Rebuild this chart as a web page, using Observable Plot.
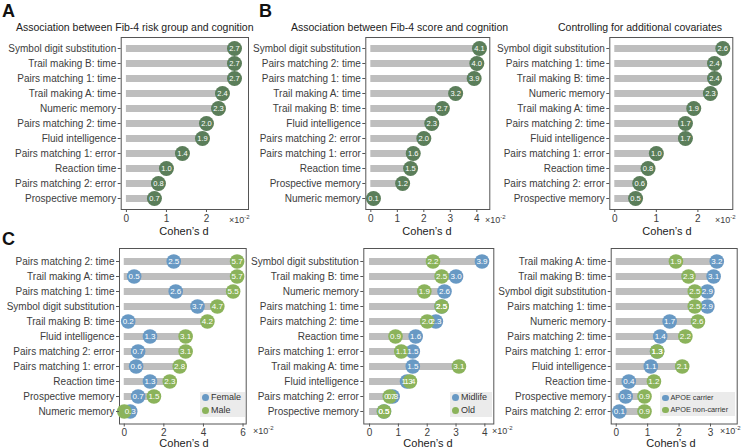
<!DOCTYPE html>
<html><head><meta charset="utf-8">
<script src="https://cdn.jsdelivr.net/npm/d3@7"></script>
<script src="https://cdn.jsdelivr.net/npm/@observablehq/plot@0.6"></script>
<style>
body{margin:0;background:#fff;font-family:"Liberation Sans",Arial,Helvetica,sans-serif;}
#wrap{position:relative;width:742px;height:448px;overflow:hidden;background:#fff;}
.abs{position:absolute;white-space:nowrap;line-height:1;}
.leg{position:absolute;background:#ebebeb;}
.leg div{display:flex;align-items:center;line-height:1;color:#333;}
.leg span.d{display:inline-block;border-radius:50%;margin-right:2px;}
svg{position:absolute;overflow:visible;}
</style></head><body><div id="wrap"></div>
<script>
// ---------- data ----------
const catsA = ["Symbol digit substitution","Trail making B: time","Pairs matching 1: time","Trail making A: time","Numeric memory","Pairs matching 2: time","Fluid intelligence","Pairs matching 1: error","Reaction time","Pairs matching 2: error","Prospective memory"];
const valsA = [2.7,2.7,2.7,2.4,2.3,2.0,1.9,1.4,1.0,0.8,0.7];

const catsB = ["Symbol digit substitution","Pairs matching 2: time","Pairs matching 1: time","Trail making A: time","Trail making B: time","Fluid intelligence","Pairs matching 2: error","Pairs matching 1: error","Reaction time","Prospective memory","Numeric memory"];
const valsB = [4.1,4.0,3.9,3.2,2.7,2.3,2.0,1.6,1.5,1.2,0.1];

const catsB2 = ["Symbol digit substitution","Pairs matching 1: time","Trail making B: time","Numeric memory","Trail making A: time","Pairs matching 2: time","Fluid intelligence","Pairs matching 1: error","Reaction time","Pairs matching 2: error","Prospective memory"];
const valsB2 = [2.6,2.4,2.4,2.3,1.9,1.7,1.7,1.0,0.8,0.6,0.5];

const catsC1 = ["Pairs matching 2: time","Trail making A: time","Pairs matching 1: time","Symbol digit substitution","Trail making B: time","Fluid intelligence","Pairs matching 2: error","Pairs matching 1: error","Reaction time","Prospective memory","Numeric memory"];
const femaleC1 = [2.5,0.5,2.6,3.7,0.2,1.3,0.7,0.6,1.3,0.7,0.3];
const maleC1 = [5.7,5.7,5.5,4.7,4.2,3.1,3.1,2.8,2.3,1.5,0.0];

const catsC2 = ["Symbol digit substitution","Trail making B: time","Numeric memory","Pairs matching 1: time","Pairs matching 2: time","Reaction time","Pairs matching 1: error","Trail making A: time","Fluid intelligence","Pairs matching 2: error","Prospective memory"];
const midlifeC2 = [3.9,3.0,2.6,2.5,2.3,1.6,1.5,1.5,1.3,0.8,0.5];
const oldC2 = [2.2,2.5,1.9,2.5,2.0,0.9,1.1,3.1,1.4,0.7,0.5];

const catsC3 = ["Trail making A: time","Trail making B: time","Symbol digit substitution","Pairs matching 1: time","Numeric memory","Pairs matching 2: time","Pairs matching 1: error","Fluid intelligence","Reaction time","Prospective memory","Pairs matching 2: error"];
const carrierC3 = [3.2,3.1,2.9,2.9,1.7,1.4,1.3,1.1,0.4,0.3,0.1];
const noncarrierC3 = [1.9,2.3,2.5,2.5,2.6,2.2,1.3,2.1,1.2,0.9,0.9];

// ---------- styles ----------
const DARK = "#5b7e5a", BLUE = "#6899c4", GREEN = "#8bb35b", BAR = "#bebebe";
const wrap = document.getElementById("wrap");

function panel(cfg) {
  const rows = cfg.cats.map((c, i) => ({cat: c, max: d3.max(cfg.series, s => s.vals[i])}));
  const marks = [
    Plot.frame({stroke: "#555", strokeWidth: 1}),
    Plot.ruleY(rows, {y: "cat", x1: 0, x2: "max", stroke: BAR, strokeWidth: 7})
  ];
  const series = cfg.series.map(s => s.vals.map((v, i) => ({cat: cfg.cats[i], v})));
  cfg.series.forEach((s, k) => marks.push(Plot.dot(series[k], {x: "v", y: "cat", r: cfg.r, fill: s.color})));
  // labels that would round to 0.0 are not printed (hidden in the reference)
  cfg.series.forEach((s, k) => marks.push(Plot.text(series[k].filter(d => d.v >= 0.05), {x: "v", y: "cat", text: d => d.v.toFixed(1), fill: "white", fontSize: cfg.fs})));
  marks.push(Plot.axisX({ticks: cfg.ticks, tickFormat: d => String(d), tickSize: 3, tickPadding: 2, label: null, stroke: "#555"}));
  marks.push(Plot.axisY({tickSize: 3, tickPadding: 2, label: null, stroke: "#555"}));
  const svg = Plot.plot({
    width: cfg.W, height: cfg.H,
    marginLeft: cfg.ml, marginRight: cfg.mr, marginTop: cfg.mt, marginBottom: cfg.mb,
    style: {fontFamily: '"Liberation Sans", Arial, sans-serif', fontSize: "10px", color: "#3d3d3d", background: "transparent"},
    x: {domain: cfg.domain},
    y: {type: "point", domain: cfg.cats, padding: 0.65},
    marks
  });
  svg.style.left = cfg.L + "px";
  svg.style.top = cfg.T + "px";
  wrap.appendChild(svg);
}

function label(html, x, y, opts = {}) {
  const d = document.createElement("div");
  d.className = "abs";
  d.innerHTML = html;
  d.style.left = x + "px";
  d.style.top = y + "px";
  d.style.fontSize = (opts.size || 10) + "px";
  d.style.fontWeight = opts.weight || "normal";
  d.style.color = opts.color || "#222";
  d.style.transform = `translate(${opts.anchor === "middle" ? "-50%" : "0"}, -50%)`;
  wrap.appendChild(d);
}

function legend(items, x, y, w, h, size, dot) {
  const d = document.createElement("div");
  d.className = "leg";
  d.style.left = x + "px"; d.style.top = y + "px";
  d.style.width = w + "px"; d.style.height = h + "px";
  d.style.display = "flex"; d.style.flexDirection = "column"; d.style.justifyContent = "space-around";
  d.style.paddingLeft = "2px"; d.style.boxSizing = "border-box";
  items.forEach(([name, color]) => {
    const r = document.createElement("div");
    r.style.fontSize = size + "px";
    r.innerHTML = `<span class="d" style="width:${dot}px;height:${dot}px;background:${color}"></span>${name}`;
    d.appendChild(r);
  });
  wrap.appendChild(d);
}

// top row: frame y 37..209 ; bottom row: frame y 248..423.5
const TOP = {T: 30, H: 200, mt: 7, mb: 21};
const BOT = {T: 241, H: 207, mt: 7, mb: 24.5};

panel({...TOP, L: 0, W: 250, ml: 120.7, mr: 2, cats: catsA, series: [{vals: valsA, color: DARK}], domain: [-0.13, 3.05], ticks: [0,1,2], r: 7.5, fs: 7.5});
panel({...TOP, L: 245, W: 250, ml: 120.3, mr: 5.7, cats: catsB, series: [{vals: valsB, color: DARK}], domain: [-0.19, 4.49], ticks: [0,1,2,3,4], r: 7.5, fs: 7.5});
panel({...TOP, L: 495, W: 247, ml: 114.3, mr: 9.7, cats: catsB2, series: [{vals: valsB2, color: DARK}], domain: [-0.12, 2.84], ticks: [0,1,2], r: 7.5, fs: 7.5});

panel({...BOT, L: 0, W: 250, ml: 119, mr: 4.3, cats: catsC1, series: [{vals: femaleC1, color: BLUE}, {vals: maleC1, color: GREEN}], domain: [-0.24, 6.16], ticks: [0,2,4,6], r: 7.3, fs: 8});
panel({...BOT, L: 245, W: 250, ml: 118.3, mr: 1.7, cats: catsC2, series: [{vals: midlifeC2, color: BLUE}, {vals: oldC2, color: GREEN}], domain: [-0.2, 4.31], ticks: [0,1,2,3,4], r: 7.3, fs: 8});
panel({...BOT, L: 495, W: 247, ml: 115.7, mr: 5.3, cats: catsC3, series: [{vals: carrierC3, color: BLUE}, {vals: noncarrierC3, color: GREEN}], domain: [-0.16, 3.85], ticks: [0,1,2,3], r: 7.3, fs: 8});

// panel letters & titles
label("A", 2, 11, {size: 18, weight: "bold", color: "#111"});
label("B", 259, 11, {size: 18, weight: "bold", color: "#111"});
label("C", 2, 239, {size: 18, weight: "bold", color: "#111"});
label("Association between Fib-4 risk group and cognition", 16, 27, {size: 10.5});
label("Association between Fib-4 score and cognition", 291, 27, {size: 10.5});
label("Controlling for additional covariates", 558, 27, {size: 10.5});

// axis titles and multipliers
const mult = "×10<sup style='font-size:6px;vertical-align:4px'>-2</sup>";
[[229,219],[485,219],[715,219],[253,430],[492,430],[720,430]].forEach(([x,y]) => label(mult, x, y, {size: 9, color: "#3d3d3d"}));
[[184,230.5],[427,230.5],[667,230.5],[184,443],[428,443],[671,443]].forEach(([x,y]) => label("Cohen’s d", x, y, {size: 11, color: "#222", anchor: "middle"}));

// legends
legend([["Female", BLUE], ["Male", GREEN]], 200, 391.5, 45, 25, 9, 7);
legend([["Midlife", BLUE], ["Old", GREEN]], 450, 391.5, 42, 25, 9, 7);
legend([["APOE carrier", BLUE], ["APOE non-carrier", GREEN]], 660, 392, 75, 24, 7.3, 6.5);
</script></body></html>
